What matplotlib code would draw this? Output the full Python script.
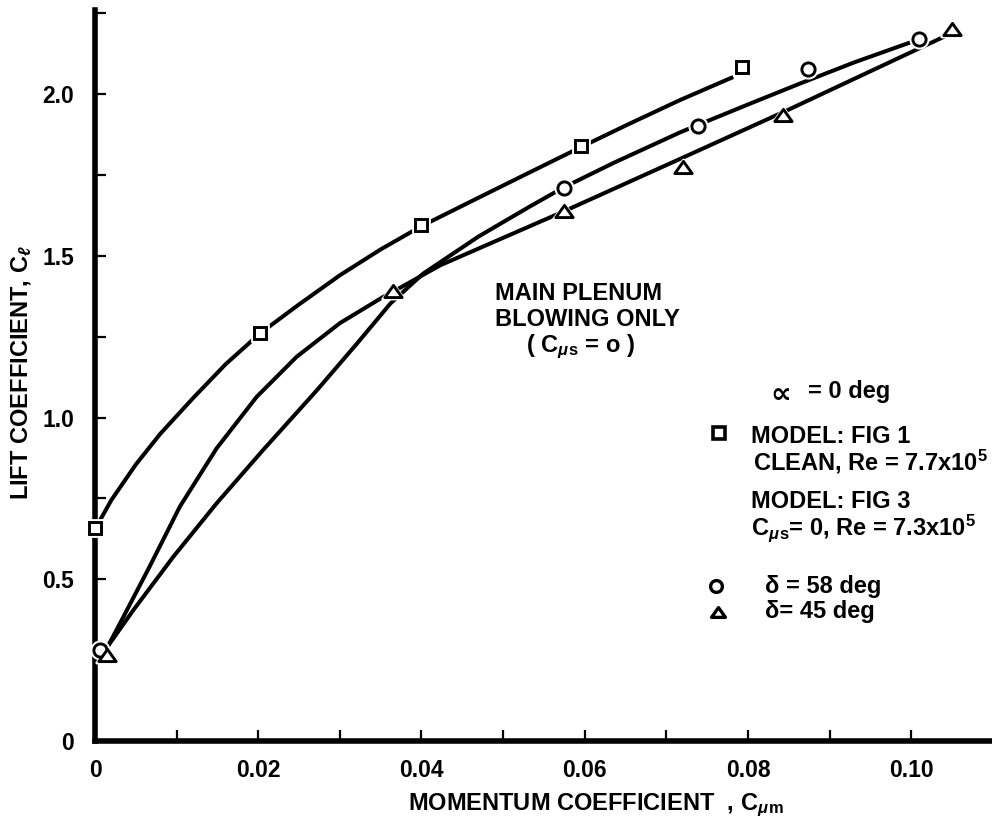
import matplotlib
matplotlib.use("Agg")
import matplotlib.pyplot as plt
from matplotlib.path import Path
from matplotlib.ticker import FixedLocator

plt.rcParams["font.family"] = ["Liberation Sans", "DejaVu Sans"]
plt.rcParams["font.weight"] = "bold"
plt.rcParams["mathtext.fontset"] = "custom"
plt.rcParams["mathtext.rm"] = "Liberation Sans:bold"
plt.rcParams["mathtext.it"] = "Liberation Sans:italic:bold"
plt.rcParams["mathtext.bf"] = "Liberation Sans:bold"

# measured points
sq_x = [0.0, 0.0202, 0.040, 0.0596, 0.0793]
sq_y = [0.658, 1.26, 1.595, 1.84, 2.083]
circ_x = [0.0006, 0.0574, 0.0739, 0.0874, 0.101]
circ_y = [0.28, 1.71, 1.90, 2.077, 2.17]
tri_x = [0.0015, 0.0365, 0.0574, 0.072, 0.0843, 0.105]
tri_y = [0.266, 1.39, 1.64, 1.775, 1.935, 2.20]

# faired curves
sq_fair_x = [0.0, 0.002, 0.005, 0.008, 0.012, 0.016, 0.0202, 0.025, 0.030,
             0.035, 0.040, 0.047, 0.053, 0.0596, 0.0656, 0.0717, 0.0782]
sq_fair_y = [0.655, 0.745, 0.855, 0.95, 1.06, 1.165, 1.26, 1.35, 1.44,
             1.52, 1.592, 1.68, 1.755, 1.837, 1.91, 1.982, 2.053]
tri_fair_x = [0.0012, 0.0035, 0.0067, 0.0104, 0.0149, 0.0198, 0.0247, 0.030,
              0.0353, 0.0365, 0.0423, 0.0573, 0.0717, 0.0848, 0.1044]
tri_fair_y = [0.275, 0.385, 0.54, 0.725, 0.905, 1.064, 1.188, 1.292,
              1.373, 1.389, 1.471, 1.636, 1.80, 1.95, 2.182]
circ_fair_x = [0.0012, 0.0047, 0.0096, 0.0149, 0.0206, 0.0272, 0.0321, 0.0362,
               0.0402, 0.047, 0.0533, 0.0573, 0.0635, 0.0717, 0.0739, 0.080,
               0.0864, 0.093, 0.0999]
circ_fair_y = [0.28, 0.405, 0.570, 0.735, 0.900, 1.085, 1.229, 1.353,
               1.445, 1.56, 1.653, 1.71, 1.787, 1.882, 1.905, 1.968,
               2.033, 2.098, 2.16]

x_major = [0.0, 0.02, 0.04, 0.06, 0.08, 0.10]
x_labels = ["0", "0.02", "0.04", "0.06", "0.08", "0.10"]
x_minor = [0.01, 0.03, 0.05, 0.07, 0.09, 0.11]
y_major = [0.0, 0.5, 1.0, 1.5, 2.0]
y_labels = ["0", "0.5", "1.0", "1.5", "2.0"]
y_minor = [0.25, 0.75, 1.25, 1.75, 2.25]

tri_marker = Path([(-1, -0.7), (1, -0.7), (0, 0.7), (-1, -0.7)],
                  [Path.MOVETO, Path.LINETO, Path.LINETO, Path.CLOSEPOLY])

fig = plt.figure(figsize=(9.92, 8.24), dpi=100)
ax = fig.add_axes([0.0958, 0.1007, 0.9042, 0.8871])
ax.set_xlim(0, 0.1099)
ax.set_ylim(0, 2.26)

lw = 2.9
ax.plot(sq_fair_x, sq_fair_y, color="black", lw=lw, solid_capstyle="butt", zorder=2)
ax.plot(tri_fair_x, tri_fair_y, color="black", lw=lw, solid_capstyle="butt", zorder=2)
ax.plot(circ_fair_x, circ_fair_y, color="black", lw=lw, solid_capstyle="butt", zorder=2)

for xs, ys, mk, ms in [(sq_x, sq_y, "s", 9), (circ_x, circ_y, "o", 9.5),
                       (tri_x, tri_y, tri_marker, 12.5)]:
    ax.plot(xs, ys, ls="none", marker=mk, ms=ms + 3, mfc="white", mec="white",
            mew=2, zorder=3, clip_on=False)
    ax.plot(xs, ys, ls="none", marker=mk, ms=ms, mfc="white", mec="black",
            mew=2.1, zorder=4, clip_on=False)

for side in ["top", "right"]:
    ax.spines[side].set_visible(False)
for side in ["left", "bottom"]:
    ax.spines[side].set_linewidth(4)

ax.xaxis.set_major_locator(FixedLocator(x_major))
ax.xaxis.set_minor_locator(FixedLocator(x_minor))
ax.set_xticklabels(x_labels)
ax.yaxis.set_major_locator(FixedLocator(y_major))
ax.yaxis.set_minor_locator(FixedLocator(y_minor))
ax.set_yticklabels(y_labels)
ax.tick_params(axis="both", which="both", direction="in", length=8, width=1.6)
ax.tick_params(axis="x", which="major", pad=13, labelsize=16.5)
ax.tick_params(axis="y", which="major", pad=15, labelsize=16.5)
for lab in ax.get_xticklabels() + ax.get_yticklabels():
    lab.set_fontweight("bold")

fs = 17
fig.text(0.411, 0.017, r"MOMENTUM COEFFICIENT  , C$_{\mu}$$_{\mathrm{m}}$",
         fontsize=fs, fontweight="bold", ha="left", va="baseline")
fig.text(0.022, 0.548, r"LIFT COEFFICIENT, C$_{\ell}$", fontsize=fs,
         fontweight="bold", rotation=90, ha="center", va="center")

fig.text(0.499, 0.636, "MAIN PLENUM", fontsize=fs, fontweight="bold")
fig.text(0.499, 0.604, "BLOWING ONLY", fontsize=fs, fontweight="bold")
fig.text(0.530, 0.573, r"( C$_{\mu}$$_{\mathrm{s}}$ = o )", fontsize=fs, fontweight="bold")

fig.text(0.777, 0.511, "\u221d", fontsize=21, fontweight="bold",
         family=["DejaVu Sans"])
fig.text(0.815, 0.517, "= 0 deg", fontsize=fs, fontweight="bold")
fig.text(0.757, 0.4624, "MODEL: FIG 1", fontsize=fs, fontweight="bold")
fig.text(0.759, 0.4296, r"CLEAN, Re = 7.7x10$^{\mathrm{5}}$", fontsize=fs, fontweight="bold")
fig.text(0.757, 0.383, "MODEL: FIG 3", fontsize=fs, fontweight="bold")
fig.text(0.757, 0.351, r"C$_{\mu}$$_{\mathrm{s}}$= 0, Re = 7.3x10$^{\mathrm{5}}$",
         fontsize=fs, fontweight="bold")
fig.text(0.771, 0.280, "\u03b4 = 58 deg", fontsize=fs, fontweight="bold")
fig.text(0.771, 0.250, "\u03b4= 45 deg", fontsize=fs, fontweight="bold")

# legend symbols
fig.lines.append(plt.Line2D([0.725], [0.4745], transform=fig.transFigure, ls="none",
                            marker="s", ms=8, mfc="white", mec="black", mew=2.6))
fig.lines.append(plt.Line2D([0.722], [0.289], transform=fig.transFigure, ls="none",
                            marker="o", ms=8.5, mfc="white", mec="black", mew=2.4))
fig.lines.append(plt.Line2D([0.724], [0.257], transform=fig.transFigure, ls="none",
                            marker=tri_marker, ms=10, mfc="white", mec="black", mew=2.4))

fig.savefig("out.png", dpi=100)
